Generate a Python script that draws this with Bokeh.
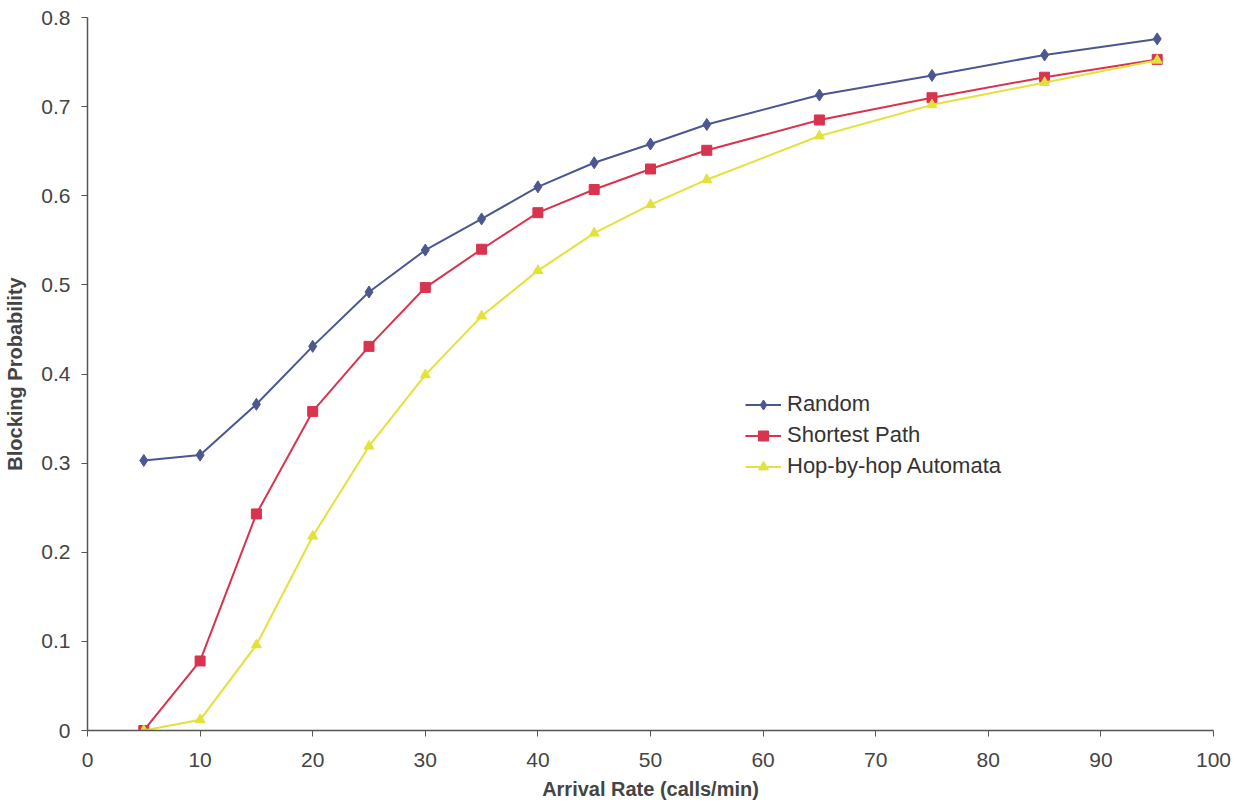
from bokeh.plotting import figure
from bokeh.models import Legend, LegendItem, Range1d, FixedTicker
from bokeh.embed import file_html
from bokeh.resources import INLINE

x = [5, 10, 15, 20, 25, 30, 35, 40, 45, 50, 55, 65, 75, 85, 95]
random_y = [0.303, 0.309, 0.366, 0.431, 0.492, 0.539, 0.574, 0.610, 0.637, 0.658, 0.680, 0.713, 0.735, 0.758, 0.776]
shortest_y = [0.0, 0.078, 0.243, 0.358, 0.431, 0.497, 0.540, 0.581, 0.607, 0.630, 0.651, 0.685, 0.710, 0.733, 0.753]
hop_y = [0.0, 0.012, 0.096, 0.218, 0.319, 0.399, 0.465, 0.516, 0.558, 0.590, 0.618, 0.667, 0.702, 0.727, 0.752]
x_ticks = [0, 10, 20, 30, 40, 50, 60, 70, 80, 90, 100]
y_ticks = [0, 0.1, 0.2, 0.3, 0.4, 0.5, 0.6, 0.7, 0.8]

FONT = "Liberation Sans"
AX = "#555555"

p = figure(width=1233, height=802, output_backend="svg", toolbar_location=None,
           x_range=Range1d(0, 100), y_range=Range1d(0, 0.8),
           min_border_left=87, min_border_right=20, min_border_top=17, min_border_bottom=72)
p.outline_line_color = None
p.xgrid.visible = False
p.ygrid.visible = False

c_r, c_s, c_h = "#4C5792", "#D8344F", "#E2E23A"

lr = p.line(x, random_y, line_color=c_r, line_width=2)
mr = p.scatter(x, random_y, marker="diamond", size=12, fill_color=c_r, line_color=c_r)
ls = p.line(x, shortest_y, line_color=c_s, line_width=2)
ms = p.scatter(x, shortest_y, marker="square", size=10, fill_color=c_s, line_color=c_s)
lh = p.line(x, hop_y, line_color=c_h, line_width=2)
mh = p.scatter(x, hop_y, marker="triangle", size=10, fill_color=c_h, line_color=c_h)

for ax in (p.xaxis[0], p.yaxis[0]):
    ax.axis_line_color = AX
    ax.axis_line_width = 1.5
    ax.major_tick_line_color = AX
    ax.major_tick_out = 6
    ax.major_tick_in = 0
    ax.minor_tick_line_color = None
    ax.major_label_text_font = FONT
    ax.major_label_text_font_size = "21px"
    ax.major_label_text_color = "#444444"
    ax.axis_label_text_font = FONT
    ax.axis_label_text_font_style = "bold"
    ax.axis_label_text_font_size = "20px"
    ax.axis_label_text_color = "#444444"

p.xaxis.ticker = FixedTicker(ticks=x_ticks)
p.yaxis.ticker = FixedTicker(ticks=y_ticks)
p.yaxis.major_label_overrides = {0: "0"}
p.xaxis.axis_label = "Arrival Rate (calls/min)"
p.yaxis.axis_label = "Blocking Probability"
p.xaxis.major_label_standoff = 16
p.xaxis.axis_label_standoff = 8
p.yaxis.major_label_standoff = 11
p.yaxis.axis_label_standoff = 12

legend = Legend(items=[
    LegendItem(label="Random", renderers=[lr, mr]),
    LegendItem(label="Shortest Path", renderers=[ls, ms]),
    LegendItem(label="Hop-by-hop Automata", renderers=[lh, mh]),
], location=(658, 251))
legend.border_line_color = None
legend.background_fill_alpha = 0
legend.label_text_font = FONT
legend.label_text_font_size = "22px"
legend.label_text_color = "#333333"
legend.glyph_width = 36
legend.glyph_height = 25
legend.label_height = 25
legend.spacing = 5
legend.label_standoff = 6
p.add_layout(legend, "center")

open("out.html", "w").write(file_html(p, INLINE))
